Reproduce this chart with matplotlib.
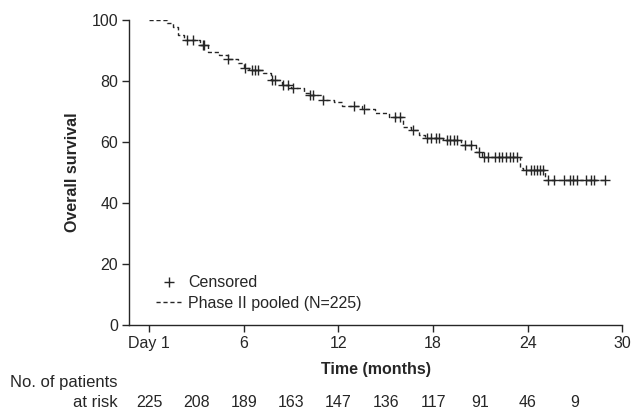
import numpy as np
import matplotlib.pyplot as plt
from matplotlib.lines import Line2D
import matplotlib.transforms as mtransforms

plt.rcParams['font.family'] = ['Liberation Sans', 'DejaVu Sans']

# step curve: times (months) where survival drops, and survival after the drop
step_t = [0, 1.1, 1.5, 1.8, 2.2, 3.2, 3.7, 4.4, 5.0, 5.6, 6.0, 6.3, 7.2, 7.7, 8.4,
          9.0, 9.8, 10.1, 11.0, 11.7, 12.2, 13.5, 14.3, 15.2, 16.1, 16.6, 17.1,
          17.5, 18.6, 19.8, 20.7, 21.1, 23.5, 23.7, 25.1, 28.9]
step_s = [100, 99, 97.7, 95, 93.4, 91.8, 89.5, 88.5, 87.2, 86, 84.3, 83.6, 82.6, 80.3, 78.7,
          77.7, 76, 75.4, 73.8, 73, 72, 71, 69.5, 68.2, 65, 64, 62.3,
          61.3, 60.6, 59, 56.7, 55, 51.5, 50.8, 47.5, 47.5]

# censored patients
cens_t = [2.4, 2.8, 3.4, 3.5, 5.0, 6.1, 6.5, 6.7, 6.9, 7.8, 8.0, 8.5, 8.8, 9.1,
          10.2, 10.4, 11.0, 13.0, 13.6, 15.6, 15.9, 16.7, 17.6, 17.9, 18.2, 18.4,
          18.9, 19.1, 19.3, 19.5, 20.0, 20.4, 20.9,
          21.2, 21.5, 21.9, 22.2, 22.4, 22.6, 22.9, 23.1, 23.3,
          23.9, 24.2, 24.4, 24.6, 24.8, 25.0,
          25.3, 25.7, 26.3, 26.7, 26.9, 27.1, 27.7, 28.0, 28.2, 28.9]
cens_s = [93.4, 93.4, 91.8, 91.8, 87.2, 84.3, 83.6, 83.6, 83.6, 80.3, 80.3, 78.7, 78.7, 77.7,
          75.4, 75.4, 73.8, 72, 71, 68.2, 68.2, 64, 61.3, 61.3, 61.3, 61.3,
          60.6, 60.6, 60.6, 60.6, 59, 59, 56.7,
          55, 55, 55, 55, 55, 55, 55, 55, 55,
          50.8, 50.8, 50.8, 50.8, 50.8, 50.8,
          47.5, 47.5, 47.5, 47.5, 47.5, 47.5, 47.5, 47.5, 47.5, 47.5]

risk_t = [0, 3, 6, 9, 12, 15, 18, 21, 24, 27]
risk_n = [225, 208, 189, 163, 147, 136, 117, 91, 46, 9]

xticks = [0, 6, 12, 18, 24, 30]
xtick_labels = ['Day 1', '6', '12', '18', '24', '30']

fs = 11.5
ink = '#262626'

fig = plt.figure(figsize=(6.33, 4.11), dpi=100)
ax = fig.add_axes([0.204, 0.209, 0.779, 0.742])

ax.step(step_t, step_s, where='post', color=ink, lw=1.0, ls=(0, (3, 2)))
ax.plot(cens_t, cens_s, ls='none', marker='+', ms=7.5, mew=1.0, color=ink)

ax.set_xlim(-1.28, 30)
ax.set_ylim(0, 100)
ax.set_xticks(xticks)
ax.set_xticklabels(xtick_labels)
ax.set_yticks([0, 20, 40, 60, 80, 100])
ax.tick_params(direction='out', length=5, width=1, labelsize=fs, colors=ink, pad=3)
for s in ['top', 'right']:
    ax.spines[s].set_visible(False)
for s in ['left', 'bottom']:
    ax.spines[s].set_color(ink)
    ax.spines[s].set_linewidth(1)

ax.set_ylabel('Overall survival', fontsize=fs, fontweight='bold', labelpad=8, color=ink)
ax.set_xlabel('Time (months)', fontsize=fs, fontweight='bold', labelpad=8, color=ink)

handles = [Line2D([], [], ls='none', marker='+', ms=7.5, mew=1.0, color=ink),
           Line2D([], [], ls=(0, (3, 2)), lw=1.0, color=ink)]
ax.legend(handles, ['Censored', 'Phase II pooled (N=225)'], loc='lower left',
          bbox_to_anchor=(0.025, 0.0), frameon=False, fontsize=fs,
          handlelength=1.6, handletextpad=0.4, labelspacing=0.35, labelcolor=ink)

# number at risk table
trans = mtransforms.blended_transform_factory(ax.transData, fig.transFigure)
fig.text(118 / 633, 1 - 382 / 411, 'No. of patients', ha='right', va='center',
         fontsize=12, color=ink)
fig.text(118 / 633, 1 - 402 / 411, 'at risk', ha='right', va='center',
         fontsize=12, color=ink)
for t, n in zip(risk_t, risk_n):
    ax.text(t, 1 - 402 / 411, str(n), transform=trans, ha='center', va='center',
            fontsize=fs, color=ink)

fig.savefig('out.png', dpi=100)
